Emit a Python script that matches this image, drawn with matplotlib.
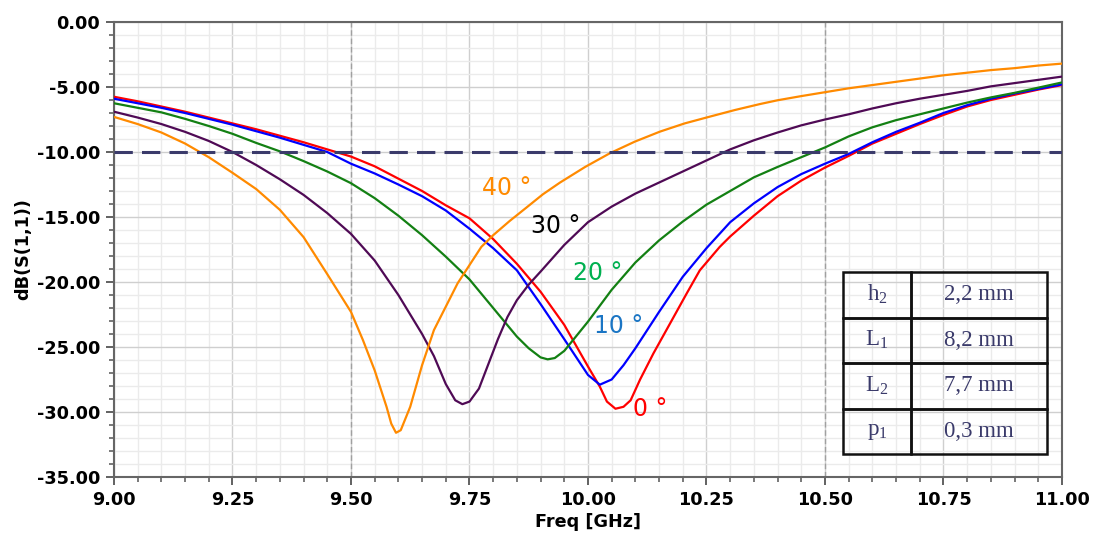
import numpy as np
import matplotlib
matplotlib.use("Agg")
import matplotlib.pyplot as plt
from matplotlib.ticker import MultipleLocator, FormatStrFormatter

# frequency [GHz] and dB(S(1,1)) per tilt angle
f_0 = [9.00, 9.05, 9.10, 9.15, 9.20, 9.25, 9.30, 9.35, 9.40, 9.45, 9.50, 9.55, 9.60,
       9.65, 9.70, 9.75, 9.80, 9.85, 9.90, 9.95, 10.00, 10.025, 10.04, 10.058, 10.075,
       10.09, 10.11, 10.138, 10.17, 10.208, 10.236, 10.278, 10.30, 10.35, 10.40, 10.45,
       10.50, 10.55, 10.60, 10.65, 10.70, 10.75, 10.80, 10.85, 10.90, 10.95, 11.00]
s_0 = [-5.75, -6.1, -6.5, -6.9, -7.35, -7.8, -8.25, -8.75, -9.25, -9.8, -10.35, -11.1, -12.05,
       -13.0, -14.1, -15.1, -16.7, -18.6, -20.75, -23.3, -26.5, -28.05, -29.2, -29.75, -29.6,
       -29.1, -27.5, -25.5, -23.4, -20.9, -19.1, -17.3, -16.5, -14.9, -13.4, -12.2,
       -11.2, -10.3, -9.35, -8.6, -7.85, -7.15, -6.5, -6.0, -5.6, -5.2, -4.85]

f_10 = [9.00, 9.05, 9.10, 9.15, 9.20, 9.25, 9.30, 9.35, 9.40, 9.45, 9.50, 9.55, 9.60,
        9.65, 9.70, 9.75, 9.80, 9.85, 9.90, 9.95, 10.00, 10.025, 10.05, 10.075, 10.10,
        10.15, 10.20, 10.25, 10.30, 10.35, 10.40, 10.45, 10.50, 10.55, 10.60, 10.65,
        10.70, 10.75, 10.80, 10.85, 10.90, 10.95, 11.00]
s_10 = [-5.9, -6.25, -6.6, -7.0, -7.45, -7.9, -8.4, -8.9, -9.45, -10.0, -10.9, -11.65, -12.5,
        -13.4, -14.5, -15.9, -17.4, -19.1, -21.7, -24.4, -27.15, -27.9, -27.5, -26.4, -25.1,
        -22.3, -19.6, -17.4, -15.4, -13.95, -12.7, -11.7, -10.9, -10.15, -9.25, -8.45,
        -7.75, -7.0, -6.4, -5.9, -5.5, -5.15, -4.8]

f_20 = [9.00, 9.05, 9.10, 9.15, 9.20, 9.25, 9.30, 9.35, 9.40, 9.45, 9.50, 9.55, 9.60,
        9.65, 9.70, 9.75, 9.80, 9.85, 9.875, 9.90, 9.915, 9.93, 9.95, 10.00, 10.05,
        10.10, 10.15, 10.20, 10.25, 10.30, 10.35, 10.40, 10.45, 10.50, 10.55, 10.60,
        10.65, 10.70, 10.75, 10.80, 10.85, 10.90, 10.95, 11.00]
s_20 = [-6.25, -6.6, -6.95, -7.45, -8.0, -8.6, -9.3, -9.95, -10.7, -11.5, -12.4, -13.55, -14.9,
        -16.4, -18.05, -19.8, -22.0, -24.2, -25.1, -25.8, -25.95, -25.85, -25.3, -23.05, -20.6,
        -18.5, -16.8, -15.35, -14.05, -13.0, -11.95, -11.15, -10.4, -9.65, -8.8, -8.1,
        -7.55, -7.1, -6.65, -6.2, -5.8, -5.45, -5.05, -4.65]

f_30 = [9.00, 9.05, 9.10, 9.15, 9.20, 9.25, 9.30, 9.35, 9.40, 9.45, 9.50, 9.55, 9.60,
        9.65, 9.675, 9.70, 9.72, 9.735, 9.75, 9.77, 9.79, 9.81, 9.83, 9.85, 9.875, 9.90,
        9.95, 10.00, 10.05, 10.10, 10.15, 10.20, 10.25, 10.30, 10.35, 10.40, 10.45, 10.50,
        10.55, 10.60, 10.65, 10.70, 10.75, 10.80, 10.85, 10.90, 10.95, 11.00]
s_30 = [-6.9, -7.35, -7.85, -8.45, -9.15, -10.0, -11.0, -12.1, -13.3, -14.7, -16.3, -18.35, -21.0,
        -24.0, -25.7, -27.85, -29.1, -29.4, -29.2, -28.2, -26.3, -24.4, -22.7, -21.4, -20.2, -19.2,
        -17.15, -15.4, -14.2, -13.2, -12.35, -11.5, -10.65, -9.8, -9.1, -8.5, -7.95, -7.5,
        -7.1, -6.65, -6.25, -5.9, -5.6, -5.3, -4.95, -4.7, -4.45, -4.2]

f_40 = [9.00, 9.05, 9.10, 9.15, 9.20, 9.25, 9.30, 9.35, 9.40, 9.45, 9.50, 9.525, 9.55,
        9.575, 9.585, 9.595, 9.605, 9.625, 9.65, 9.675, 9.70, 9.725, 9.75, 9.775, 9.80,
        9.835, 9.871, 9.905, 9.941, 9.994, 10.046, 10.099, 10.152, 10.204, 10.257, 10.31,
        10.363, 10.40, 10.45, 10.50, 10.55, 10.60, 10.65, 10.70, 10.75, 10.80, 10.85,
        10.90, 10.95, 11.00]
s_40 = [-7.3, -7.85, -8.5, -9.35, -10.4, -11.6, -12.85, -14.45, -16.55, -19.4, -22.3, -24.45, -26.8,
        -29.6, -30.9, -31.6, -31.4, -29.6, -26.4, -23.7, -21.9, -20.1, -18.7, -17.3, -16.4,
        -15.3, -14.25, -13.25, -12.35, -11.15, -10.1, -9.2, -8.43, -7.8, -7.28, -6.77,
        -6.31, -6.02, -5.7, -5.4, -5.1, -4.85, -4.6, -4.35, -4.1, -3.9, -3.7,
        -3.55, -3.35, -3.2]

curves = [(f_0, s_0, "#ff0000"), (f_10, s_10, "#0000ff"), (f_20, s_20, "#138013"),
          (f_30, s_30, "#4f0a55"), (f_40, s_40, "#ff8a00")]

# angle labels: text, x, y, colour
labels = [("40 °", 9.776, -12.8, "#ff8a00"),
          ("30 °", 9.88, -15.7, "#000000"),
          ("20 °", 9.968, -19.3, "#00b050"),
          ("10 °", 10.012, -23.4, "#1a75c4"),
          ("0 °", 10.096, -29.8, "#ff0000")]

table_rows = [(r"h$_2$", "2,2 mm"), (r"L$_1$", "8,2 mm"), (r"L$_2$", "7,7 mm"), (r"p$_1$", "0,3 mm")]

plt.rcParams["mathtext.default"] = "regular"

fig = plt.figure(figsize=(10.94, 5.33), dpi=100)
ax = fig.add_axes([0.1042, 0.1051, 0.8665, 0.8536])

for f, s, c in curves:
    ax.plot(f, s, color=c, lw=1.6, zorder=3)

ax.axhline(-10, color="#3b3b6b", lw=2.2, dashes=(6, 3), zorder=4)
for xv in (9.5, 10.5):
    ax.axvline(xv, color="#a0a0a0", lw=1.0, ls=(0, (4, 2)), zorder=2)

for text, x, y, c in labels:
    ax.text(x, y, text, color=c, fontsize=17, family="DejaVu Sans",
            ha="left", va="center", zorder=5)

ax.set_xlim(9.0, 11.0)
ax.set_ylim(-35, 0)
ax.xaxis.set_major_locator(MultipleLocator(0.25))
ax.xaxis.set_minor_locator(MultipleLocator(0.05))
ax.yaxis.set_major_locator(MultipleLocator(5))
ax.yaxis.set_minor_locator(MultipleLocator(1))
ax.xaxis.set_major_formatter(FormatStrFormatter("%.2f"))
ax.yaxis.set_major_formatter(FormatStrFormatter("%.2f"))

ax.grid(which="major", color="#cfcfcf", lw=1.0, zorder=0)
ax.grid(which="minor", color="#ebebeb", lw=1.0, zorder=0)
ax.set_axisbelow(True)

for sp in ax.spines.values():
    sp.set_color("#666666")
    sp.set_linewidth(1.5)
ax.tick_params(which="major", length=6, width=1.3, color="#555555", pad=4)
ax.tick_params(which="minor", length=3.5, width=1.1, color="#555555")
for lab in ax.get_xticklabels() + ax.get_yticklabels():
    lab.set_family("DejaVu Sans")
    lab.set_fontweight("bold")
    lab.set_fontsize(12.7)

ax.set_xlabel("Freq [GHz]", family="DejaVu Sans", fontweight="bold", fontsize=12.7, labelpad=3)
ax.set_ylabel("dB(S(1,1))", family="DejaVu Sans", fontweight="bold", fontsize=12.7, labelpad=3)

tb = ax.table(cellText=[list(r) for r in table_rows], cellLoc="center",
              colWidths=[0.333, 0.667], bbox=[0.769, 0.0505, 0.215, 0.4])
tb.auto_set_font_size(False)
for cell in tb.get_celld().values():
    cell.set_facecolor("none")
    cell.set_edgecolor("#111111")
    cell.set_linewidth(1.8)
    cell.get_text().set_family("Liberation Serif")
    cell.get_text().set_fontsize(16.5)
    cell.get_text().set_color("#3a3a6a")
tb.set_zorder(6)

fig.savefig("out.png", dpi=100)
